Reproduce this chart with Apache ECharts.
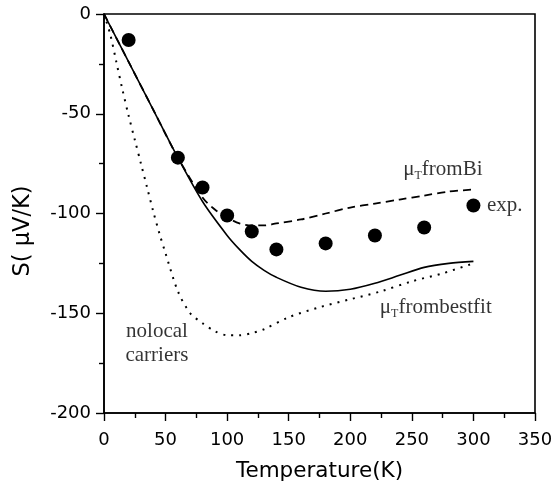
<!DOCTYPE html>
<html><head><meta charset="utf-8">
<script src="https://cdn.jsdelivr.net/npm/echarts@6/dist/echarts.min.js"></script>
<style>html,body{margin:0;padding:0;background:#fff}#c{width:555px;height:492px}</style>
</head><body><div id="c"></div>
<script>
// Experimental points
const expT = [20, 60, 80, 100, 120, 140, 180, 220, 260, 300];
const expS = [-13, -72, -87, -101, -109, -118, -115, -111, -107, -96];
// mu_T from best fit (solid)
const fitT = [0, 20, 40, 60, 80, 100, 110, 120, 130, 140, 160, 180, 200, 220, 240, 260, 280, 300];
const fitS = [0, -24, -48, -72, -94, -111, -118, -124, -128.5, -132, -137, -139, -138, -135, -131, -127, -125, -124];
// mu_T from Bi (dashed)
const biT = [0, 20, 40, 60, 80, 90, 100, 110, 120, 130, 140, 160, 180, 200, 220, 240, 260, 280, 300];
const biS = [0, -24, -48, -72, -92, -98, -102, -105, -106, -106, -105, -103, -100, -97, -95, -93, -91, -89, -88];
// nolocal carriers (dotted)
const nlT = [0, 5, 10, 15, 20, 25, 30, 35, 40, 45, 50, 60, 70, 80, 90, 100, 110, 120, 130, 150, 175, 200, 225, 250, 275, 300];
const nlS = [0, -10, -24, -38, -51, -63, -75, -87, -99, -110, -120, -139, -150, -155, -159, -161, -161, -160, -158, -152, -147, -143, -139, -134, -130, -125];
// axis ticks
const xTicks = [0, 50, 100, 150, 200, 250, 300, 350];
const yTicks = [-200, -150, -100, -50, 0];

const zip = (a, b) => a.map((v, i) => [v, b[i]]);
const sans = 'DejaVu Sans', serif = 'Liberation Serif';
const rich = {
  m: {fontFamily: serif, fontSize: 21, color: '#000'},
  s: {fontFamily: serif, fontSize: 12, color: '#000', padding: [13, 0, 0, 0]}
};
const axisCommon = {
  type: 'value',
  axisLine: {show: true, onZero: false, lineStyle: {color: '#000', width: 1.6}},
  axisTick: {show: true, inside: false, length: 8, lineStyle: {color: '#000', width: 1.4}},
  minorTick: {show: true, splitNumber: 2, length: 5, lineStyle: {color: '#000', width: 1.4}},
  splitLine: {show: false},
  axisLabel: {fontFamily: sans, fontSize: 18, color: '#000'}
};
const chart = echarts.init(document.getElementById('c'));
chart.setOption({
  animation: false,
  grid: {left: 104, right: 20, top: 14, bottom: 79, show: true, borderColor: '#000', borderWidth: 1.6, outerBoundsMode: 'none'},
  xAxis: Object.assign({}, axisCommon, {
    min: xTicks[0], max: xTicks[xTicks.length - 1], interval: 50,
    axisLabel: Object.assign({}, axisCommon.axisLabel, {margin: 18}),
    name: 'Temperature(K)', nameLocation: 'middle', nameGap: 47,
    nameTextStyle: {fontFamily: sans, fontSize: 21.5, color: '#000'}
  }),
  yAxis: Object.assign({}, axisCommon, {
    min: yTicks[0], max: yTicks[yTicks.length - 1], interval: 50,
    axisLabel: Object.assign({}, axisCommon.axisLabel, {margin: 13})
  }),
  graphic: [{
    type: 'text', x: 23, y: 231, rotation: Math.PI / 2,
    style: {text: 'S( μV/K)', fontFamily: sans, fontSize: 22.5, fill: '#000', align: 'center', verticalAlign: 'middle'}
  }],
  series: [
    {type: 'line', data: zip(fitT, fitS), smooth: 0.3, symbol: 'none', lineStyle: {color: '#000', width: 1.6}},
    {type: 'line', data: zip(biT, biS), smooth: 0.3, symbol: 'none', lineStyle: {color: '#000', width: 1.8, type: [8, 5]}},
    {type: 'line', data: zip(nlT, nlS), smooth: 0.3, symbol: 'none', lineStyle: {color: '#000', width: 2, type: [2, 6]}},
    {type: 'scatter', data: zip(expT, expS), symbol: 'circle', symbolSize: 14, itemStyle: {color: '#000', opacity: 1}},
    {type: 'scatter', symbolSize: 0, silent: true,
      data: [
        {value: [243, -78], label: {formatter: '{m|μ}{s|T}{m|fromBi}'}},
        {value: [311, -96], label: {formatter: '{m|exp.}'}},
        {value: [224, -147], label: {formatter: '{m|μ}{s|T}{m|frombestfit}'}},
        {value: [43, -165], label: {formatter: '{m|nolocal}\n{m|carriers}', position: 'inside', align: 'center', lineHeight: 24}}
      ],
      label: {show: true, position: 'right', distance: 0, rich: rich}
    }
  ]
});
</script></body></html>
